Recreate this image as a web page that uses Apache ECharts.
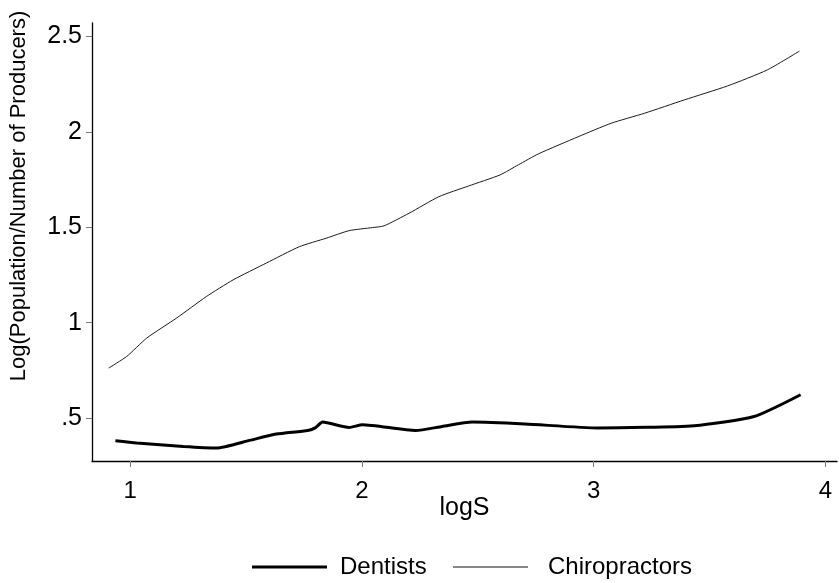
<!DOCTYPE html>
<html>
<head>
<meta charset="utf-8">
<script src="https://cdn.jsdelivr.net/npm/echarts@6/dist/echarts.min.js"></script>
<style>
html,body{margin:0;padding:0;background:#fff;}
#chart{width:839px;height:583px;}
</style>
</head>
<body>
<div id="chart"></div>
<script>
// logS values and fitted Log(Population/Number of Producers)
const dentistsX = [0.936, 1.028, 1.229, 1.372, 1.515, 1.630, 1.766, 1.800, 1.830, 1.945, 2.002, 2.231, 2.346, 2.475, 2.704, 3.019, 3.434, 3.692, 3.893];
const dentistsY = [0.381, 0.369, 0.351, 0.343, 0.383, 0.416, 0.435, 0.450, 0.479, 0.451, 0.465, 0.435, 0.456, 0.479, 0.469, 0.448, 0.460, 0.508, 0.622];
const chiroX = [0.907, 0.985, 1.071, 1.200, 1.329, 1.444, 1.587, 1.730, 1.845, 1.945, 2.045, 2.095, 2.203, 2.332, 2.460, 2.596, 2.675, 2.761, 2.933, 3.076, 3.219, 3.391, 3.577, 3.749, 3.888];
const chiroY = [0.762, 0.823, 0.919, 1.024, 1.137, 1.224, 1.312, 1.398, 1.442, 1.482, 1.498, 1.507, 1.573, 1.660, 1.716, 1.774, 1.827, 1.884, 1.974, 2.045, 2.097, 2.167, 2.240, 2.324, 2.423];
const xTicks = [1, 2, 3, 4];
const yTicks = [0.5, 1, 1.5, 2, 2.5];
const seriesNames = ['Dentists', 'Chiropractors'];

const FONT = '"Liberation Sans", Arial, sans-serif';
const pairs = (xs, ys) => xs.map((x, i) => [x, ys[i]]);

const chart = echarts.init(document.getElementById('chart'), null, {renderer: 'canvas'});
chart.setOption({
  backgroundColor: '#ffffff',
  animation: false,
  grid: {left: 89, right: 2, top: 23, bottom: 122, containLabel: false},
  legend: [
    {
      data: [{name: seriesNames[0], icon: 'rect'}], left: 247, top: 550,
      itemWidth: 75, itemHeight: 3,
      itemStyle: {color: '#000', borderWidth: 0},
      textStyle: {fontFamily: FONT, fontSize: 24, color: '#000', padding: [0, 0, 0, 8]}
    },
    {
      data: [{name: seriesNames[1], icon: 'rect'}], left: 448, top: 550,
      itemWidth: 75, itemHeight: 1.2,
      itemStyle: {color: '#111', borderWidth: 0},
      textStyle: {fontFamily: FONT, fontSize: 24, color: '#000', padding: [0, 0, 0, 15]}
    }
  ],
  xAxis: {
    type: 'value', min: 0.835, max: 4.05,
    name: 'logS', nameLocation: 'middle', nameGap: 35, nameMoveOverlap: false,
    nameTextStyle: {fontFamily: FONT, fontSize: 25, color: '#000'},
    axisLine: {onZero: false, lineStyle: {color: '#000', width: 1.3}},
    axisTick: {show: true, length: 6, lineStyle: {color: '#777'}, customValues: xTicks},
    axisLabel: {fontFamily: FONT, fontSize: 24, color: '#000', margin: 18, customValues: xTicks},
    splitLine: {show: false}
  },
  yAxis: {
    type: 'value', min: 0.275, max: 2.57,
    name: 'Log(Population/Number of Producers)', nameLocation: 'middle', nameGap: 62, nameMoveOverlap: false,
    nameTextStyle: {fontFamily: FONT, fontSize: 22, color: '#000', padding: [0, 0, 0, 92]},
    axisLine: {onZero: false, lineStyle: {color: '#000', width: 1.3}},
    axisTick: {show: true, length: 6, lineStyle: {color: '#777'}, customValues: yTicks},
    axisLabel: {
      fontFamily: FONT, fontSize: 25, color: '#000', margin: 10, customValues: yTicks,
      formatter: v => (v === 0.5 ? '.5' : String(v))
    },
    splitLine: {show: false}
  },
  series: [
    {
      name: seriesNames[0], type: 'line', data: pairs(dentistsX, dentistsY),
      symbol: 'none', smooth: 0.2,
      lineStyle: {color: '#000', width: 3}, itemStyle: {color: '#000'}
    },
    {
      name: seriesNames[1], type: 'line', data: pairs(chiroX, chiroY),
      symbol: 'none', smooth: 0.2,
      lineStyle: {color: '#1a1a1a', width: 1}, itemStyle: {color: '#1a1a1a'}
    }
  ]
});
</script>
</body>
</html>
